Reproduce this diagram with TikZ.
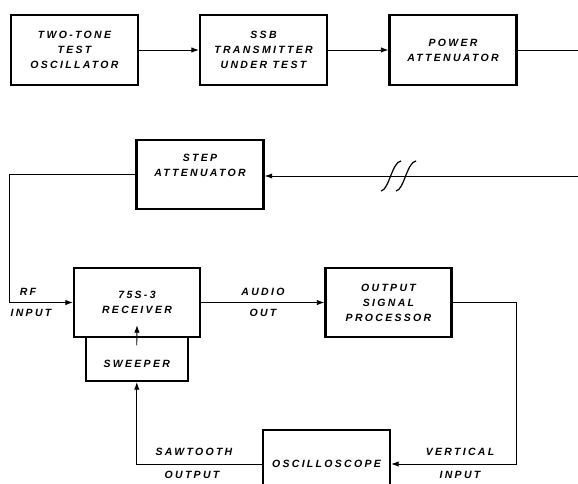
\documentclass[tikz,border=0pt]{standalone}
\usepackage{fontspec}
\setmainfont{Liberation Sans}
\newfontfamily\blkfont[LetterSpace=22]{Liberation Sans}
\usetikzlibrary{arrows.meta,positioning}

\begin{document}
\begin{tikzpicture}[x=1pt,y=-1pt,>={Latex[length=7.5pt,width=5.5pt]},
 font=\blkfont\bfseries\itshape\fontsize{10.5}{15}\selectfont,
 blk/.style={draw,line width=2.4pt,align=center,inner sep=0pt,minimum width=127pt,minimum height=70pt},
 wire/.style={line width=0.9pt},
 tag/.style={align=center,inner sep=0pt}]
\useasboundingbox (0,0) rectangle (578,484);
% transmitter chain
\node[blk] (tto) at (74.5,50) {TWO-TONE\\TEST\\OSCILLATOR};
\node[blk] (ssb) at (263.5,50) {SSB\\TRANSMITTER\\UNDER TEST};
\node[blk] (patt) at (453,50) {POWER\\ATTENUATOR};
\coordinate (pe) at (578,50);
\draw[wire,->] (tto) -- (ssb);
\draw[wire,->] (ssb) -- (patt);
\draw[wire] (patt) -- (pe);
% step attenuator and receiver
\node[blk,minimum height=69pt] (satt) at (200,174.5) {STEP\\ATTENUATOR\\[3pt]\mbox{}};
\coordinate (se) at (578,176);
\draw[wire,->] (se) -- (satt.east |- se);
\foreach \dx in {0,15} \draw[line width=1.2pt] (381+\dx,191) .. controls (389+\dx,190) and (392+\dx,162) .. (401+\dx,161);
\node[blk,minimum width=126pt,minimum height=69pt] (rcv) at (137,302.5) {75S-3\\RECEIVER};
\node[blk,minimum width=102pt,minimum height=44pt,text height=17pt,text depth=0pt] (swp) at (136.75,359) {SWEEPER};
\node[blk,minimum width=126pt,minimum height=69pt] (osp) at (388.5,302.5) {OUTPUT\\SIGNAL\\PROCESSOR};
\node[blk,minimum height=68pt] (osc) at (326.5,464) {OSCILLOSCOPE};
\draw[wire,->] (satt.west) -- ++(-126,0) |- (rcv.west);
\draw[wire,->] ([yshift=-9.5pt]swp.north) -- ([yshift=13pt]rcv.south);
\draw[wire,->] (rcv) -- (osp);
\draw[wire,->] (osp.east) -- ++(64,0) |- (osc.east);
\draw[wire,->] (osc.west) -| (swp.south);
% labels
\node[tag] (rf) at (28,292) {RF};
\node[tag] (rfin) at (31,313) {INPUT};
\node[tag] (aud) at (263,292) {AUDIO};
\node[tag] (audo) at (263,313) {OUT};
\node[tag] (saw) at (194,452) {SAWTOOTH};
\node[tag] (sawo) at (192,475) {OUTPUT};
\node[tag] (vert) at (460,452) {VERTICAL};
\node[tag] (verti) at (460,475) {INPUT};
\end{tikzpicture}
\end{document}
